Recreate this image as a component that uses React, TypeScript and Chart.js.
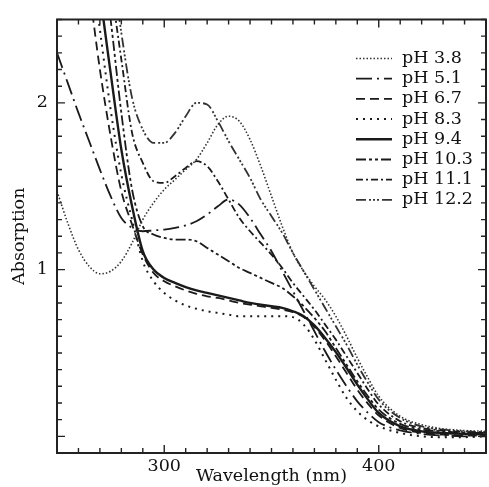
import React, { useEffect, useRef } from 'react';
import { Chart, registerables } from 'chart.js';

Chart.register(...registerables);

// Wavelength grid (nm)
const wavelengths = [250, 255, 260, 265, 270, 275, 280, 285, 290, 295, 300, 305, 310, 315, 320, 325, 330, 335, 340, 345, 350, 355, 360, 365, 370, 375, 380, 385, 390, 395, 400, 410, 420, 430, 440, 450];

const seriesLabels = ['pH 3.8', 'pH 5.1', 'pH 6.7', 'pH 8.3', 'pH 9.4', 'pH 10.3', 'pH 11.1', 'pH 12.2'];

const ph38 = [1.47, 1.28, 1.12, 1.02, 0.975, 0.99, 1.05, 1.16, 1.30, 1.40, 1.48, 1.54, 1.60, 1.66, 1.76, 1.87, 1.92, 1.89, 1.78, 1.62, 1.44, 1.26, 1.10, 0.99, 0.90, 0.82, 0.72, 0.60, 0.47, 0.35, 0.24, 0.12, 0.07, 0.045, 0.035, 0.03];
const ph51 = [2.30, 2.12, 1.94, 1.77, 1.60, 1.44, 1.31, 1.25, 1.23, 1.235, 1.24, 1.25, 1.265, 1.29, 1.33, 1.38, 1.42, 1.39, 1.31, 1.21, 1.11, 0.99, 0.87, 0.75, 0.63, 0.51, 0.40, 0.30, 0.21, 0.14, 0.085, 0.035, 0.015, 0.005, 0.0, 0.0];
const ph67 = [4.2, 3.6, 3.1, 2.68, 2.2, 1.8, 1.47, 1.27, 1.09, 0.98, 0.93, 0.90, 0.875, 0.855, 0.84, 0.83, 0.815, 0.80, 0.79, 0.78, 0.77, 0.76, 0.745, 0.715, 0.655, 0.575, 0.48, 0.38, 0.28, 0.195, 0.125, 0.05, 0.02, 0.01, 0.005, 0.005];
const ph83 = [4.6, 4.0, 3.45, 2.95, 2.44, 1.96, 1.57, 1.30, 1.05, 0.93, 0.86, 0.815, 0.785, 0.765, 0.75, 0.74, 0.73, 0.72, 0.72, 0.72, 0.72, 0.72, 0.715, 0.67, 0.58, 0.46, 0.34, 0.23, 0.15, 0.095, 0.06, 0.02, 0.0, -0.005, -0.005, 0.0];
const ph94 = [4.9, 4.3, 3.75, 3.2, 2.66, 2.18, 1.72, 1.38, 1.11, 1.00, 0.95, 0.92, 0.895, 0.875, 0.86, 0.845, 0.83, 0.815, 0.80, 0.79, 0.78, 0.77, 0.75, 0.72, 0.665, 0.59, 0.505, 0.41, 0.31, 0.22, 0.14, 0.06, 0.03, 0.02, 0.015, 0.01];
const ph103 = [5.2, 4.6, 4.0, 3.5, 3.0, 2.5, 1.94, 1.48, 1.26, 1.21, 1.19, 1.18, 1.18, 1.17, 1.13, 1.09, 1.05, 1.01, 0.98, 0.95, 0.92, 0.89, 0.84, 0.78, 0.71, 0.63, 0.53, 0.43, 0.33, 0.24, 0.16, 0.075, 0.04, 0.03, 0.02, 0.02];
const ph111 = [5.5, 4.9, 4.3, 3.7, 3.2, 2.72, 2.26, 1.82, 1.64, 1.53, 1.52, 1.56, 1.61, 1.65, 1.62, 1.53, 1.42, 1.31, 1.23, 1.16, 1.09, 1.01, 0.92, 0.84, 0.76, 0.67, 0.58, 0.48, 0.38, 0.28, 0.19, 0.09, 0.05, 0.035, 0.025, 0.02];
const ph122 = [5.8, 5.2, 4.6, 4.0, 3.4, 2.9, 2.42, 2.03, 1.84, 1.76, 1.76, 1.82, 1.92, 2.0, 1.99, 1.89, 1.77, 1.66, 1.55, 1.42, 1.32, 1.22, 1.10, 0.99, 0.88, 0.77, 0.66, 0.55, 0.43, 0.32, 0.22, 0.11, 0.06, 0.04, 0.03, 0.025];

const seriesValues = [ph38, ph51, ph67, ph83, ph94, ph103, ph111, ph122];

const xTickLabels = [300, 400];
const yTickLabels = [1, 2];

const lineStyles = [
  { dash: [1.5, 2], width: 1.6, color: '#333' },
  { dash: [16, 5, 2, 5], width: 1.8, color: '#1a1a1a' },
  { dash: [9, 5], width: 1.8, color: '#1a1a1a' },
  { dash: [2, 5], width: 2, color: '#1a1a1a' },
  { dash: [], width: 2.4, color: '#1a1a1a' },
  { dash: [10, 3, 3, 3, 3, 3], width: 1.8, color: '#1a1a1a' },
  { dash: [7, 3, 2, 3], width: 1.8, color: '#1a1a1a' },
  { dash: [10, 3, 2, 2, 2, 2, 2, 3], width: 1.8, color: '#333' },
];

const FONT = '"DejaVu Serif", "Liberation Serif", serif';

const framePlugin = {
  id: 'frameTicksLegend',
  afterDatasetsDraw(chart: any) {
    const { ctx, chartArea, scales } = chart;
    const { left, right, top, bottom } = chartArea;
    const xs = scales.x;
    const ys = scales.y;
    ctx.save();
    ctx.strokeStyle = '#222';
    ctx.lineWidth = 1.4;
    ctx.setLineDash([]);
    xs.ticks.forEach((t: any) => {
      const v = Math.round(t.value);
      const px = xs.getPixelForValue(t.value);
      const len = v % 100 === 0 ? 8 : 5;
      ctx.beginPath();
      ctx.moveTo(px, bottom);
      ctx.lineTo(px, bottom - len);
      ctx.moveTo(px, top);
      ctx.lineTo(px, top + len);
      ctx.stroke();
    });
    ys.ticks.forEach((t: any) => {
      const v = Math.round(t.value * 10);
      const py = ys.getPixelForValue(t.value);
      const len = v % 10 === 0 ? 8 : 5;
      ctx.beginPath();
      ctx.moveTo(left, py);
      ctx.lineTo(left + len, py);
      ctx.moveTo(right, py);
      ctx.lineTo(right - len, py);
      ctx.stroke();
    });
    ctx.lineWidth = 2;
    ctx.strokeRect(left, top, right - left, bottom - top);

    // legend inside the plot
    const x0 = right - 130;
    const x1 = right - 94;
    const tx = right - 84;
    const y0 = top + 39;
    const gap = 20.2;
    chart.data.datasets.forEach((ds: any, i: number) => {
      const yy = y0 + i * gap;
      ctx.strokeStyle = ds.borderColor;
      ctx.lineWidth = ds.borderWidth;
      ctx.setLineDash(ds.borderDash || []);
      ctx.beginPath();
      ctx.moveTo(x0, yy);
      ctx.lineTo(x1, yy);
      ctx.stroke();
      ctx.setLineDash([]);
      ctx.fillStyle = '#111';
      ctx.font = `17.5px ${FONT}`;
      ctx.textBaseline = 'middle';
      ctx.textAlign = 'left';
      ctx.fillText(ds.label, tx, yy);
    });
    ctx.restore();
  },
};

export default function App() {
  const ref = useRef<HTMLCanvasElement | null>(null);
  useEffect(() => {
    document.body.style.margin = '0';
    const canvas = ref.current;
    if (!canvas) return;
    const datasets = seriesValues.map((vals, i) => ({
      label: seriesLabels[i],
      data: wavelengths.map((w, j) => ({ x: w, y: vals[j] })),
      borderColor: lineStyles[i].color,
      borderWidth: lineStyles[i].width,
      borderDash: lineStyles[i].dash,
      pointRadius: 0,
      fill: false,
      cubicInterpolationMode: 'monotone' as const,
    }));
    const chart = new Chart(canvas, {
      type: 'line',
      data: { datasets },
      options: {
        animation: false,
        responsive: false,
        devicePixelRatio: 1,
        layout: { padding: { top: 14, right: 2, left: 0, bottom: 0 } },
        plugins: { legend: { display: false }, tooltip: { enabled: false } },
        scales: {
          x: {
            type: 'linear',
            min: 250,
            max: 450,
            grid: { display: false, drawTicks: false },
            border: { display: false },
            ticks: {
              stepSize: 10,
              autoSkip: false,
              maxRotation: 0,
              padding: 3,
              color: '#111',
              font: { family: FONT, size: 17.5 },
              callback: (v: any) => (xTickLabels.includes(Math.round(Number(v))) && Math.abs(Number(v) - Math.round(Number(v))) < 1e-6 ? String(Math.round(Number(v))) : ''),
            },
            title: {
              display: true,
              text: 'Wavelength (nm)',
              color: '#111',
              font: { family: FONT, size: 17.5 },
              padding: { top: 0, bottom: 0 },
            },
            afterFit: (s: any) => { s.height = 34; },
          },
          y: {
            type: 'linear',
            min: -0.1,
            max: 2.5,
            grid: { display: false, drawTicks: false },
            border: { display: false },
            ticks: {
              stepSize: 0.1,
              autoSkip: false,
              padding: 9,
              color: '#111',
              font: { family: FONT, size: 17.5 },
              callback: (v: any) => {
                const n = Number(v);
                const m = yTickLabels.find((t) => Math.abs(n - t) < 1e-6);
                return m !== undefined ? String(m) : '';
              },
            },
            title: {
              display: true,
              text: 'Absorption',
              color: '#111',
              font: { family: FONT, size: 17.5 },
              padding: { top: 9, bottom: 0 },
            },
            afterFit: (s: any) => { s.width = 57; },
          },
        },
      },
      plugins: [framePlugin],
    });
    return () => chart.destroy();
  }, []);
  return (
    <div style={{ position: 'absolute', left: 0, top: 0, width: 489, height: 487, background: '#fff' }}>
      <canvas ref={ref} width={489} height={487} style={{ display: 'block' }} />
    </div>
  );
}
